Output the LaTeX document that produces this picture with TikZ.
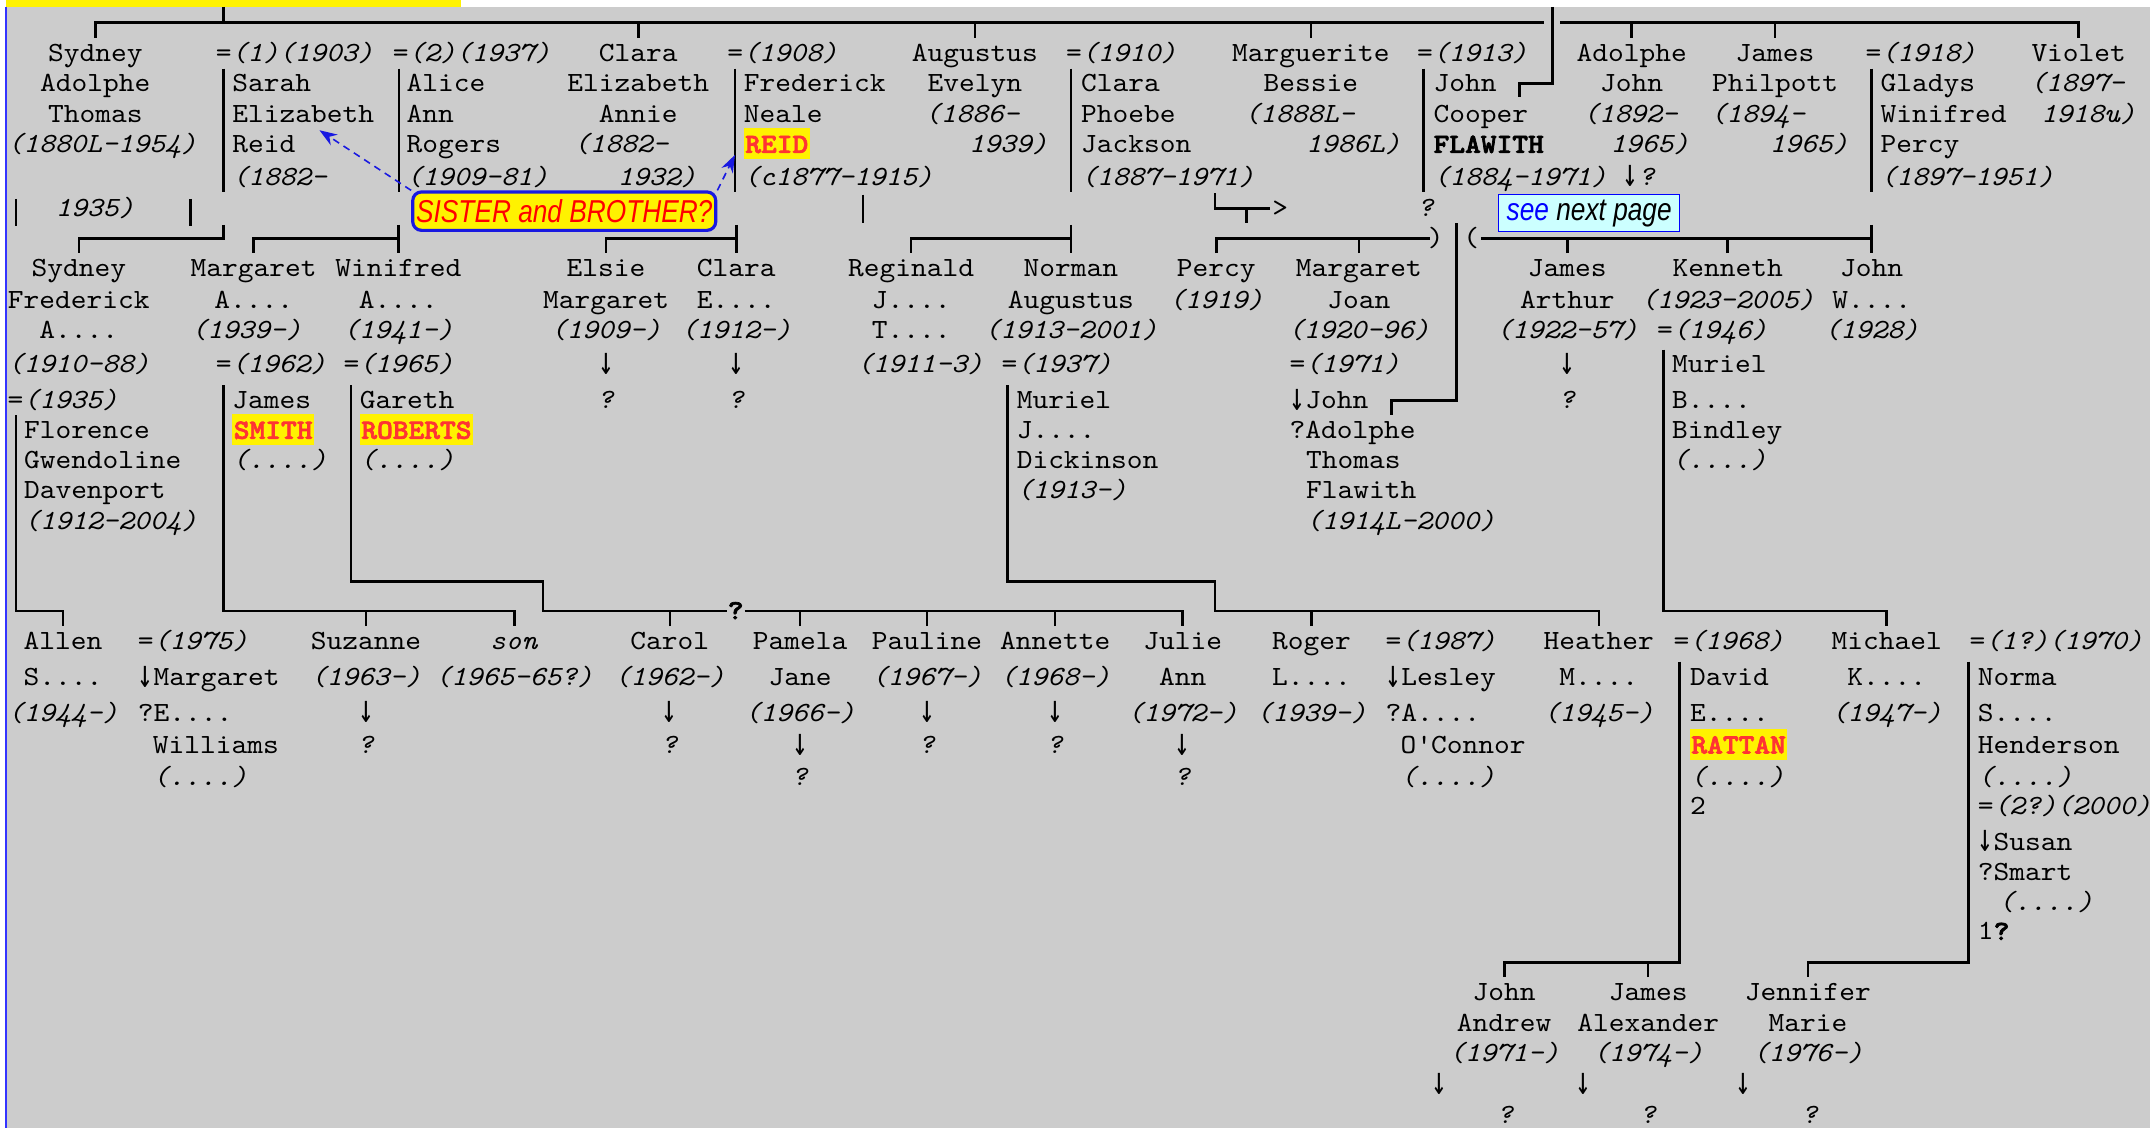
\documentclass[tikz,border=0pt]{standalone}
\usepackage{graphicx}
\usepackage{fontspec}
\setmainfont{lmmono10-regular.otf}[
  ItalicFont=lmmono10-italic.otf,
  BoldFont=lmmonolt10-bold.otf,
  BoldFeatures={FakeBold=2.5},
  FakeStretch=1.08]
\newfontfamily\narrowsans[FakeStretch=0.83]{Liberation Sans}
\newfontfamily\arrowfont{DejaVu Sans Mono}
\usetikzlibrary{arrows.meta}

\definecolor{pagegrey}{RGB}{204,204,204}
\definecolor{namered}{RGB}{255,51,51}
\definecolor{boxblue}{RGB}{25,25,225}
\definecolor{seecyan}{RGB}{204,255,255}

\newcommand\elided{....}
\newcommand\dn{\raisebox{-0.5pt}{\scalebox{1}[1.5]{\arrowfont\fontsize{7.45}{9}\selectfont ↓}}}
\newcommand\hilite[1]{{\setlength\fboxsep{0pt}\colorbox{yellow}{\rule[-1.8pt]{0pt}{8.8pt}\kern0.4pt\textcolor{namered}{\textbf{#1}}\kern0.4pt}}}

% baselines of the text rows
\def\rowy{{22.5,45,67,89,111.5,135,158,180,202,225,247,272,298,320,341.5,363.5,386,408,430,451.6,474,500,526,549.5,572.5,594,620,642,664,685.5,708,730,752,774,797,819}}

% one line of text per row, starting at row #4
\newcommand\famlines[5][base]{%
  \foreach \ytext [count=\k from 0] in {#5} {
    \pgfmathtruncatemacro\rowno{#4+\k}
    \pgfmathsetmacro\rowpos{\rowy[\rowno]}
    \node[nm, anchor=#1] (#2-\k) at (#3,\rowpos) {\ytext};
  }}

\tikzset{
  nm/.style={inner sep=0pt, text height=6.6pt, text depth=2pt,
    font=\fontsize{7.9}{9}\selectfont},
  tree/.style={line width=0.75pt},
  sisterbox/.style={draw=boxblue, line width=0.9pt, fill=yellow,
    rounded corners=2.5pt, inner sep=0pt, minimum width=30.3mm,
    minimum height=3.84mm, text=red,
    font=\narrowsans\itshape\fontsize{9}{10}\selectfont},
  seebox/.style={draw=blue, line width=0.4pt, fill=seecyan, inner sep=0pt,
    minimum width=18.1mm, minimum height=3.7mm,
    font=\narrowsans\itshape\fontsize{9}{10}\selectfont},
  hint/.style={boxblue, line width=0.45pt, dash pattern=on 2pt off 1.5pt,
    -{Stealth[length=5pt, width=3.6pt]}},
}

\begin{document}
\begin{tikzpicture}[x=0.1371mm, y=-0.1371mm]

\path [use as bounding box] (0,0) rectangle (1568,823);

% PAGE
\fill [white] (0,0) rectangle (1568,823);
\fill [pagegrey] (4.4,5) rectangle (1568,823);
\fill [yellow] (4.4,0) rectangle (336,5);
\draw [blue!80, line width=0.4pt] (4.4,5) -- (4.4,823);

% GENERATION 1
\famlines{sat}{69.5}{1}{Sydney, Adolphe, Thomas}
\famlines[base west]{satd}{5}{4}{\textit{(1880L-1954)}}
\famlines[base west]{mar1}{157}{1}{=\textit{(1)(1903)}}
\famlines[base west]{ser}{169}{2}{Sarah, Elizabeth, Reid, \textit{(1882-}}
\famlines[base west]{serd}{40}{6}{\textit{1935)}}
\famlines[base west]{mar2}{286}{1}{=\textit{(2)(1937)}}
\famlines[base west]{aar}{296}{2}{Alice, Ann, Rogers, \textit{(1909-81)}}
\famlines{cea}{465.5}{1}{Clara, Elizabeth, Annie}
\famlines[base west]{cead}{418}{4}{\textit{(1882-}}
\famlines[base west]{ceae}{450}{5}{\textit{1932)}}
\famlines[base west]{mar3}{530}{1}{=\textit{(1908)}}
\famlines[base west]{fnr}{542}{2}{Frederick, Neale, \hilite{REID}, \textit{(c1877-1915)}}
\famlines{ae}{711}{1}{Augustus, Evelyn}
\famlines[base west]{aed}{674}{3}{\textit{(1886-}}
\famlines[base west]{aee}{706}{4}{\textit{1939)}}
\famlines[base west]{mar4}{777}{1}{=\textit{(1910)}}
\famlines[base west]{cpj}{788}{2}{Clara, Phoebe, Jackson, \textit{(1887-1971)}}
\famlines{mb}{956}{1}{Marguerite, Bessie}
\famlines[base west]{mbd}{907}{3}{\textit{(1888L-}}
\famlines[base west]{mbe}{952}{4}{\textit{1986L)}}
\famlines[base west]{mar5}{1033}{1}{=\textit{(1913)}}
\famlines[base west]{jcf}{1045}{2}{John, Cooper, \textbf{FLAWITH}, \textit{(1884-1971)}}
\famlines{jcfq}{1040}{6}{\textit{?}}
\famlines{aj}{1190}{1}{Adolphe, John}
\famlines[base west]{ajd}{1154}{3}{\textit{(1892-}}
\famlines[base west]{aje}{1174}{4}{\textit{1965)}}
\famlines[base west]{ajq}{1183}{5}{\dn\textit{?}}
\famlines{jp}{1294.5}{1}{James, Philpott}
\famlines[base west]{jpd}{1247}{3}{\textit{(1894-}}
\famlines[base west]{jpe}{1290}{4}{\textit{1965)}}
\famlines[base west]{mar6}{1360}{1}{=\textit{(1918)}}
\famlines[base west]{gwp}{1371}{2}{Gladys, Winifred, Percy, \textit{(1897-1951)}}
\famlines{vio}{1516}{1}{Violet}
\famlines[base west]{viod}{1480}{2}{\textit{(1897-}}
\famlines[base west]{vioe}{1488}{3}{\textit{1918u)}}

% GENERATION 2
\famlines{sfa}{57.5}{8}{Sydney, Frederick, A\elided, \textit{(1910-88)}}
\famlines[base west]{mar7}{5}{12}{=\textit{(1935)}}
\famlines[base west]{fgd}{17}{13}{Florence, Gwendoline, Davenport, \textit{(1912-2004)}}
\famlines{maa}{185}{8}{Margaret, A\elided}
\famlines[base west]{maad}{139}{10}{\textit{(1939-)}}
\famlines[base west]{mar8}{157}{11}{=\textit{(1962)}}
\famlines[base west]{js}{169}{12}{James, \hilite{SMITH}, \textit{(\elided)}}
\famlines{waa}{290.5}{8}{Winifred, A\elided, \textit{(1941-)}}
\famlines[base west]{mar9}{250}{11}{=\textit{(1965)}}
\famlines[base west]{gr}{262}{12}{Gareth, \hilite{ROBERTS}, \textit{(\elided)}}
\famlines{emd}{442}{8}{Elsie, Margaret, \textit{(1909-)}, \dn, \textit{?}}
\famlines{ce}{537}{8}{Clara, E\elided, \textit{(1912-)}, \dn, \textit{?}}
\famlines{rjt}{664.5}{8}{Reginald, J\elided, T\elided}
\famlines{rjtd}{671}{11}{\textit{(1911-3)}}
\famlines{nan}{781}{8}{Norman, Augustus, \textit{(1913-2001)}}
\famlines[base west]{mar10}{730}{11}{=\textit{(1937)}}
\famlines[base west]{mjd}{741}{12}{Muriel, J\elided, Dickinson, \textit{(1913-)}}
\famlines{per}{887}{8}{Percy, \textit{(1919)}}
\famlines{mjn}{991}{8}{Margaret, Joan, \textit{(1920-96)}}
\famlines[base west]{mar11}{940}{11}{=\textit{(1971)}}
\famlines[base west]{jat}{940}{12}{\dn John, ?Adolphe}
\famlines[base west]{jatf}{952}{14}{Thomas, Flawith, \textit{(1914L-2000)}}
\famlines{jaa}{1143}{8}{James, Arthur, \textit{(1922-57)}, \dn, \textit{?}}
\famlines{ken}{1260}{8}{Kenneth, \textit{(1923-2005)}}
\famlines[base west]{mar12}{1208}{10}{=\textit{(1946)}}
\famlines[base west]{mbb}{1219}{11}{Muriel, B\elided, Bindley, \textit{(\elided)}}
\famlines{jw}{1365}{8}{John, W\elided, \textit{(1928)}}
\famlines[base west]{gt}{927.5}{6}{>}
\famlines{rpar}{1047}{7}{)}
\famlines{lpar}{1073}{7}{\textup{(}}

% GENERATION 3
\famlines{asn}{46}{20}{Allen, S\elided, \textit{(1944-)}}
\famlines[base west]{mar13}{100}{20}{=\textit{(1975)}}
\famlines[base west]{mew}{100}{21}{\dn Margaret, ?E\elided}
\famlines[base west]{mewb}{111}{23}{Williams, \textit{(\elided)}}
\famlines{suz}{267}{20}{Suzanne, \textit{(1963-)}, \dn, \textit{?}}
\famlines{son}{375}{20}{\textit{son}, \textit{(1965-65?)}}
\famlines{car}{488.5}{20}{Carol, \textit{(1962-)}, \dn, \textit{?}}
\famlines{pam}{583.5}{20}{Pamela, Jane, \textit{(1966-)}, \dn, \textit{?}}
\famlines{pau}{676}{20}{Pauline, \textit{(1967-)}, \dn, \textit{?}}
\famlines{anet}{769.5}{20}{Annette, \textit{(1968-)}, \dn, \textit{?}}
\famlines{jul}{862.5}{20}{Julie, Ann, \textit{(1972-)}, \dn, \textit{?}}
\famlines{rog}{956.5}{20}{Roger, L\elided, \textit{(1939-)}}
\famlines[base west]{mar14}{1010}{20}{=\textit{(1987)}}
\famlines[base west]{lao}{1010}{21}{\dn Lesley, ?A\elided}
\famlines[base west]{laob}{1021}{23}{O\textquotesingle Connor, \textit{(\elided)}}
\famlines{hea}{1166}{20}{Heather, M\elided, \textit{(1945-)}}
\famlines[base west]{mar15}{1220}{20}{=\textit{(1968)}}
\famlines[base west]{der}{1232}{21}{David, E\elided, \hilite{RATTAN}, \textit{(\elided)}, 2}
\famlines{mic}{1376}{20}{Michael, K\elided, \textit{(1947-)}}
\famlines[base west]{mar16}{1436}{20}{=\textit{(1?)(1970)}}
\famlines[base west]{nsh}{1442}{21}{Norma, S\elided, Henderson, \textit{(\elided)}, =\textit{(2?)(2000)}, \dn Susan, ?Smart}
\famlines[base west]{nshd}{1457}{28}{\textit{(\elided)}}
\famlines[base west]{nshq}{1442}{29}{1\textbf{?}}
\famlines{qmark}{536.5}{19}{\textbf{?}}

% GENERATION 4
\famlines{jan}{1097}{31}{John, Andrew, \textit{(1971-)}}
\famlines{jal}{1202}{31}{James, Alexander, \textit{(1974-)}}
\famlines{jm}{1318.5}{31}{Jennifer, Marie, \textit{(1976-)}}
\famlines{jana}{1050}{34}{\dn}
\famlines{janq}{1098}{35}{\textit{?}}
\famlines{jala}{1155}{34}{\dn}
\famlines{jalq}{1202}{35}{\textit{?}}
\famlines{jma}{1271.6}{34}{\dn}
\famlines{jmq}{1320}{35}{\textit{?}}

% LINES, TOP
\draw [tree] (163,5) -- (163,16.5);
\draw [tree] (sat-0.north) |- (1126,16.5);
\foreach \p in {cea,ae,mb} \draw [tree] (\p-0.north) -- (\p-0.north |- 0,16.5);
\draw [tree] (1132,5) |- (1108,61) -- (1108,70.5);
\draw [tree] (1138,16.5) -| (vio-0.north);
\foreach \p in {aj,jp} \draw [tree] (\p-0.north) -- (\p-0.north |- 0,16.5);

% LINES, SPOUSES
\foreach \x in {163,291,536,781,1038,1365} \draw [tree] (\x,50) -- (\x,140);
\draw [tree] (11.7,145) -- (11.7,165);
\draw [tree] (139,145) -- (139,165);
\draw [tree] (629.5,142) -- (629.5,163);
\draw [tree] (886,141) |- (926,152);
\draw [tree] (909,152) -- (909,163);

% LINES, GENERATION 2
\draw [tree] (163,164) -- (163,174) -| (sfa-0.north);
\draw [tree] (waa-0.north |- 0,164) -- (waa-0.north);
\draw [tree] (waa-0.north |- 0,174) -| (maa-0.north);
\draw [tree] (ce-0.north |- 0,164) -- (ce-0.north);
\draw [tree] (ce-0.north |- 0,174) -| (emd-0.north);
\draw [tree] (nan-0.north |- 0,164) -- (nan-0.north);
\draw [tree] (nan-0.north |- 0,174) -| (rjt-0.north);
\draw [tree] (per-0.north) |- (1043,174);
\draw [tree] (mjn-0.north) -- (mjn-0.north |- 0,174);
\draw [tree] (jw-0.north |- 0,164) -- (jw-0.north);
\draw [tree] (jw-0.north |- 0,174) -- (1080,174);
\foreach \p in {jaa,ken} \draw [tree] (\p-0.north) -- (\p-0.north |- 0,174);
\draw [tree] (1062,163) |- (1015,292) -- (1015,303);

% LINES, GENERATION 3
\draw [tree] (11.7,303) -- (11.7,445.6) -| (asn-0.north);
\draw [tree] (163,281) -- (163,445.6) -| (son-0.north);
\draw [tree] (suz-0.north) -- (suz-0.north |- 0,445.6);
\draw [tree] (256,281) |- (396,424) |- (530,445.6);
\draw [tree] (543,445.6) -| (jul-0.north);
\foreach \p in {car,pam,pau,anet} \draw [tree] (\p-0.north) -- (\p-0.north |- 0,445.6);
\draw [tree] (734.6,281) |- (886,424) -- (886,445.6) -| (hea-0.north);
\draw [tree] (rog-0.north) -- (rog-0.north |- 0,445.6);
\draw [tree] (1213,255) -- (1213,445.6) -| (mic-0.north);

% LINES, GENERATION 4
\draw [tree] (1225,482.6) -- (1225,702) -| (jan-0.north);
\draw [tree] (jal-0.north) -- (jal-0.north |- 0,702);
\draw [tree] (1435.6,482.6) -- (1435.6,702) -| (jm-0.north);

% NOTES
\node [sisterbox] (sister) at (411.5,154) {SISTER and BROTHER?};
\node [seebox] (see) at (1159,155.5) {\textcolor{blue}{see} next page};
\coordinate (tipA) at (233,95);
\coordinate (tipB) at (536,113);
\draw [hint] (sister.north west) -- (tipA);
\draw [hint] (sister.north east) -- (tipB);

\end{tikzpicture}
\end{document}
